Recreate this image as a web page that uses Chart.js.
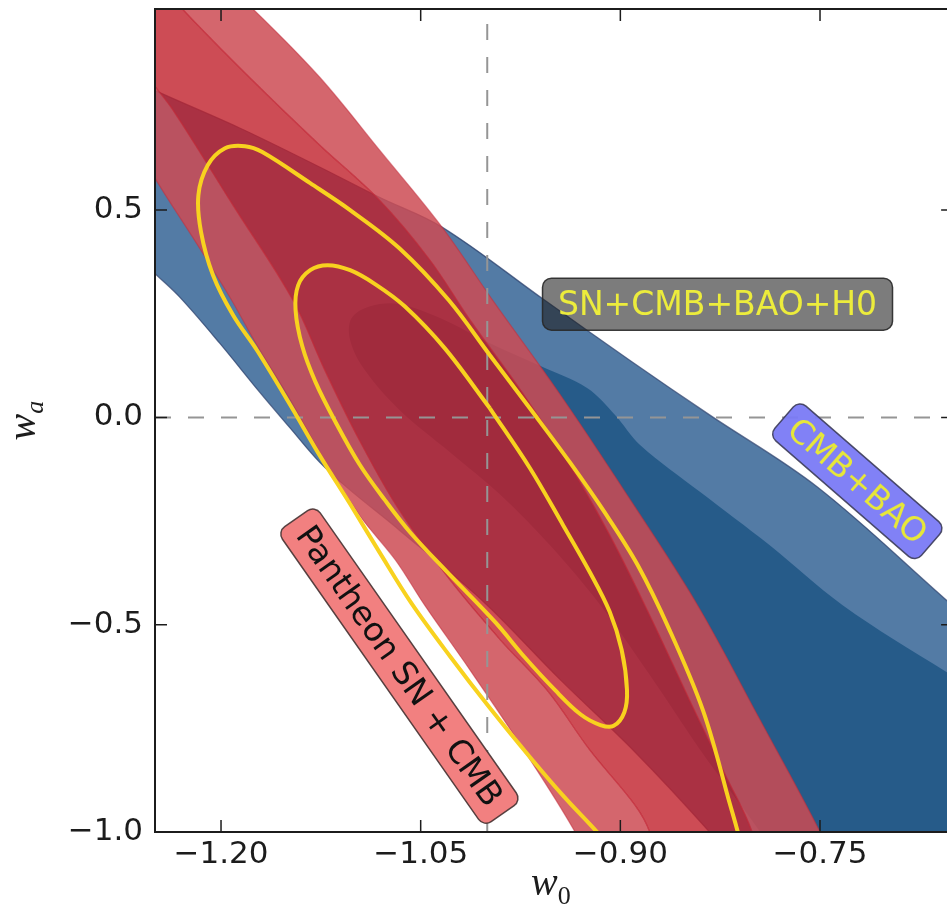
<!DOCTYPE html>
<html>
<head>
<meta charset="utf-8">
<title>w0 - wa constraints</title>
<script src="https://cdn.jsdelivr.net/npm/chart.js@4.4.1/dist/chart.umd.min.js"></script>
<style>
  html, body { margin: 0; padding: 0; background: #fff; }
  canvas { display: block; }
</style>
</head>
<body>
<canvas id="contour-chart" width="947" height="912"></canvas>
<script>
// ========================= 数据 =========================
// 坐标轴刻度
const w0Ticks = [-1.20, -1.05, -0.90, -0.75];
const waTicks = [-1.0, -0.5, 0.0, 0.5];
// 坐标范围
const w0Min = -1.2496, w0Max = -0.6546;
const waMin = -1.0, waMax = 0.985;
// ΛCDM 参考虚线
const lcdmW0 = -1.0;
const lcdmWa = 0.0;

// CMB+BAO 轮廓 (95% / 68%), 每个点为 [w0, wa]
const cmbBaoOuter = [
  [-1.298, 0.862], [-1.250, 0.789], [-1.186, 0.698], [-1.126, 0.604], [-1.081, 0.531],
  [-1.034, 0.459], [-0.957, 0.283], [-0.893, 0.138], [-0.833, 0.006], [-0.752, -0.168],
  [-0.655, -0.441], [-0.600, -0.597], [-0.570, -0.875], [-0.630, -1.309], [-0.780, -1.309],
  [-0.810, -1.092], [-0.833, -1.000], [-0.889, -0.807], [-0.945, -0.633], [-1.004, -0.441],
  [-1.066, -0.272], [-1.105, -0.170], [-1.126, -0.108], [-1.148, -0.026], [-1.171, 0.061],
  [-1.201, 0.179], [-1.231, 0.290], [-1.250, 0.348], [-1.283, 0.452], [-1.321, 0.596],
  [-1.328, 0.765]
];
const cmbBaoInner = [
  [-0.600, -0.718], [-0.570, -0.923], [-0.615, -1.309], [-0.750, -1.309], [-0.773, -1.116],
  [-0.795, -1.000], [-0.840, -0.802], [-0.878, -0.621], [-0.915, -0.453], [-0.953, -0.308],
  [-0.990, -0.187], [-1.028, -0.084], [-1.066, 0.018], [-1.092, 0.114], [-1.103, 0.186],
  [-1.102, 0.239], [-1.088, 0.268], [-1.066, 0.273], [-1.035, 0.239], [-0.998, 0.179],
  [-0.960, 0.124], [-0.925, 0.071], [-0.904, 0.006], [-0.885, -0.067], [-0.840, -0.180],
  [-0.788, -0.308], [-0.733, -0.453], [-0.655, -0.614]
];

// Pantheon SN + CMB 轮廓 (95% / 68%)
const snCmbOuter = [
  [-1.216, 1.103], [-1.176, 0.985], [-1.126, 0.821], [-1.081, 0.645], [-1.034, 0.459],
  [-0.996, 0.283], [-0.945, 0.054], [-0.889, -0.216], [-0.842, -0.453], [-0.795, -0.730],
  [-0.750, -1.000], [-0.727, -1.164], [-0.795, -1.309], [-0.900, -1.212], [-0.934, -1.000],
  [-0.975, -0.790], [-1.013, -0.609], [-1.047, -0.453], [-1.069, -0.344], [-1.096, -0.236],
  [-1.126, -0.084], [-1.148, 0.042], [-1.173, 0.174], [-1.193, 0.288], [-1.220, 0.428],
  [-1.250, 0.579], [-1.276, 0.729], [-1.283, 0.910], [-1.261, 1.079]
];
const snCmbInner = [
  [-1.261, 1.103], [-1.229, 0.985], [-1.178, 0.818], [-1.126, 0.657], [-1.081, 0.524],
  [-1.043, 0.379], [-1.013, 0.235], [-0.975, 0.066], [-0.938, -0.115], [-0.908, -0.284],
  [-0.878, -0.477], [-0.848, -0.682], [-0.821, -0.863], [-0.801, -1.000], [-0.788, -1.164],
  [-0.840, -1.309], [-0.870, -1.116], [-0.878, -1.000], [-0.889, -0.935], [-0.923, -0.802],
  [-0.954, -0.662], [-0.990, -0.537], [-1.028, -0.392], [-1.066, -0.224], [-1.096, -0.055],
  [-1.122, 0.114], [-1.146, 0.283], [-1.191, 0.512], [-1.236, 0.741], [-1.253, 0.813],
  [-1.283, 0.958], [-1.291, 1.055]
];

// SN+CMB+BAO+H0 轮廓线 (95% / 68%)
const allOuter = [
  [-0.893, -1.092], [-0.917, -1.002], [-0.942, -0.916], [-0.968, -0.819], [-0.998, -0.701],
  [-1.028, -0.576], [-1.057, -0.448], [-1.081, -0.325], [-1.103, -0.209], [-1.126, -0.091],
  [-1.148, 0.030], [-1.173, 0.162], [-1.191, 0.247], [-1.206, 0.343], [-1.215, 0.447],
  [-1.217, 0.536], [-1.210, 0.608], [-1.197, 0.649], [-1.182, 0.654], [-1.169, 0.640],
  [-1.133, 0.565], [-1.103, 0.500], [-1.066, 0.408], [-1.029, 0.283], [-0.998, 0.150],
  [-0.968, 0.022], [-0.938, -0.108], [-0.912, -0.228], [-0.887, -0.356], [-0.863, -0.513],
  [-0.838, -0.706], [-0.820, -0.906], [-0.806, -1.092], [-0.810, -1.212], [-0.829, -1.273],
  [-0.863, -1.200]
];
const allInner = [
  [-0.998, 0.022], [-0.968, -0.122], [-0.943, -0.260], [-0.923, -0.373], [-0.908, -0.469],
  [-0.899, -0.561], [-0.895, -0.658], [-0.897, -0.711], [-0.905, -0.744], [-0.915, -0.742],
  [-0.930, -0.716], [-0.949, -0.658], [-0.972, -0.578], [-0.994, -0.494], [-1.028, -0.380],
  [-1.058, -0.277], [-1.077, -0.199], [-1.096, -0.113], [-1.114, -0.011], [-1.129, 0.085],
  [-1.139, 0.172], [-1.144, 0.259], [-1.142, 0.319], [-1.133, 0.355], [-1.120, 0.367],
  [-1.103, 0.355], [-1.084, 0.321], [-1.062, 0.268], [-1.032, 0.167]
];

// 图中的文字标注 (锚点为数据坐标)
const textBoxes = [
  { text: 'SN+CMB+BAO+H0', w0: -0.827, wa: 0.273, angle: 0, w: 350, h: 52,
    fill: 'rgba(30,30,30,0.58)', edge: 'rgba(40,40,40,0.9)', color: '#ecec3c' },
  { text: 'CMB+BAO', w0: -0.722, wa: -0.154, angle: 41, w: 194, h: 46,
    fill: 'rgba(122,122,245,0.95)', edge: 'rgba(60,60,90,0.9)', color: '#e6e63a' },
  { text: 'Pantheon SN + CMB', w0: -1.066, wa: -0.600, angle: 55, w: 360, h: 46,
    fill: '#f28080', edge: 'rgba(70,50,50,0.9)', color: '#111111' }
];

// ========================= 辅助函数 =========================
const closed = pts => pts.concat([pts[0]]);
const toXY = pts => pts.map(([x, y]) => ({ x, y }));
const minusSign = s => s.replace('-', '\u2212');

/**
 * 生成一条折线数据集，默认不填充、无描边。
 */
function lineSet(points, opts) {
  return Object.assign({
    data: toXY(points),
    showLine: true,
    pointRadius: 0,
    pointHoverRadius: 0,
    clip: 0,
    tension: 0.35,
    borderWidth: 0,
    fill: false
  }, opts);
}

// 95% 外环 = 外轮廓 + 反向的内轮廓 (nonzero 规则下内部成为空洞)
const snCmbRing = closed(snCmbOuter).concat(closed(snCmbInner).reverse());

/**
 * 绘制带圆角的旋转文本框。
 */
function drawTextBox(ctx, cx, cy, box) {
  const w = box.w, h = box.h, r = 9;
  ctx.save();
  ctx.translate(cx, cy);
  ctx.rotate(box.angle * Math.PI / 180);
  ctx.beginPath();
  ctx.moveTo(-w / 2 + r, -h / 2);
  ctx.arcTo(w / 2, -h / 2, w / 2, h / 2, r);
  ctx.arcTo(w / 2, h / 2, -w / 2, h / 2, r);
  ctx.arcTo(-w / 2, h / 2, -w / 2, -h / 2, r);
  ctx.arcTo(-w / 2, -h / 2, w / 2, -h / 2, r);
  ctx.closePath();
  ctx.fillStyle = box.fill;
  ctx.fill();
  ctx.lineWidth = 1.5;
  ctx.strokeStyle = box.edge;
  ctx.stroke();
  ctx.fillStyle = box.color;
  ctx.font = '33px "DejaVu Sans"';
  ctx.textAlign = 'center';
  ctx.textBaseline = 'middle';
  ctx.fillText(box.text, 0, 2);
  ctx.restore();
}

// 坐标框、朝内刻度、标注和轴标题 (matplotlib 风格)
const framePlugin = {
  id: 'frame',
  afterDatasetsDraw(chart) {
    const { ctx, chartArea: a, scales: { x, y } } = chart;
    ctx.save();

    textBoxes.forEach(b => drawTextBox(ctx, x.getPixelForValue(b.w0), y.getPixelForValue(b.wa), b));

    ctx.strokeStyle = '#1c1c1c';
    ctx.lineWidth = 2;
    ctx.beginPath();
    ctx.moveTo(a.right + 10, a.top);
    ctx.lineTo(a.left, a.top);
    ctx.lineTo(a.left, a.bottom);
    ctx.lineTo(a.right + 10, a.bottom);
    ctx.stroke();

    const tick = 12;
    const rightSpine = x.getPixelForValue(-0.65);
    ctx.lineWidth = 1.5;
    ctx.beginPath();
    w0Ticks.forEach(v => {
      const px = x.getPixelForValue(v);
      ctx.moveTo(px, a.top); ctx.lineTo(px, a.top + tick);
      ctx.moveTo(px, a.bottom); ctx.lineTo(px, a.bottom - tick);
    });
    waTicks.forEach(v => {
      const py = y.getPixelForValue(v);
      ctx.moveTo(a.left, py); ctx.lineTo(a.left + tick, py);
      ctx.moveTo(rightSpine, py); ctx.lineTo(rightSpine - tick, py);
    });
    ctx.stroke();

    // 轴标题 w_0 / w_a
    ctx.fillStyle = '#1c1c1c';
    ctx.textBaseline = 'alphabetic';
    ctx.textAlign = 'left';
    const cx = (a.left + a.right) / 2;
    ctx.font = 'italic 40px "Liberation Serif"';
    const ww = ctx.measureText('w').width;
    ctx.fillText('w', cx - 20, a.bottom + 63);
    ctx.font = '26px "Liberation Serif"';
    ctx.fillText('0', cx - 20 + ww, a.bottom + 72);

    ctx.save();
    ctx.translate(a.left - 120, (a.top + a.bottom) / 2);
    ctx.rotate(-Math.PI / 2);
    ctx.font = 'italic 40px "Liberation Serif"';
    ctx.fillText('w', -20, 0);
    ctx.font = 'italic 26px "Liberation Serif"';
    ctx.fillText('a', -20 + ww, 8);
    ctx.restore();

    ctx.restore();
  }
};

// ========================= 图表 =========================
const tickFont = { family: '"DejaVu Sans"', size: 31 };

new Chart(document.getElementById('contour-chart').getContext('2d'), {
  type: 'scatter',
  data: {
    datasets: [
      lineSet(closed(cmbBaoOuter), { order: 9, fill: 'shape', backgroundColor: '#537ba5',
        borderColor: 'rgba(50,70,112,0.75)', borderWidth: 1.3 }),
      lineSet(closed(cmbBaoInner), { order: 8, fill: 'shape', backgroundColor: '#265b89' }),
      lineSet(snCmbRing, { order: 7, fill: 'shape', backgroundColor: 'rgba(204,75,84,0.85)',
        borderColor: 'rgba(195,45,60,0.55)', borderWidth: 1.2 }),
      lineSet(closed(snCmbInner), { order: 6, fill: 'shape', backgroundColor: 'rgba(193,31,42,0.8)',
        borderColor: 'rgba(195,45,60,0.55)', borderWidth: 1.2 }),
      lineSet([[lcdmW0, waMin], [lcdmW0, waMax]], { order: 5, tension: 0,
        borderColor: '#959595', borderWidth: 2, borderDash: [16, 17] }),
      lineSet([[w0Min, lcdmWa], [w0Max, lcdmWa]], { order: 4, tension: 0,
        borderColor: '#959595', borderWidth: 2, borderDash: [16, 17] }),
      lineSet(closed(allOuter), { order: 3, borderColor: '#f8d21f', borderWidth: 4 }),
      lineSet(closed(allInner), { order: 2, borderColor: '#f8d21f', borderWidth: 4 })
    ]
  },
  options: {
    responsive: false,
    animation: false,
    events: [],
    layout: { padding: { top: 9, right: 0, bottom: 0, left: 0 } },
    plugins: { legend: { display: false }, tooltip: { enabled: false } },
    elements: { line: { capBezierPoints: false, borderJoinStyle: 'round' } },
    scales: {
      x: {
        type: 'linear', min: w0Min, max: w0Max,
        grid: { display: false, drawTicks: false },
        border: { display: false },
        afterBuildTicks: s => { s.ticks = w0Ticks.map(v => ({ value: v })); },
        afterFit: s => { s.height = 80; s.paddingLeft = 0; s.paddingRight = 0; },
        ticks: { autoSkip: false, maxRotation: 0, padding: 4, color: '#1c1c1c', font: tickFont,
          callback: v => minusSign(v.toFixed(2)) }
      },
      y: {
        type: 'linear', min: waMin, max: waMax,
        grid: { display: false, drawTicks: false },
        border: { display: false },
        afterBuildTicks: s => { s.ticks = waTicks.map(v => ({ value: v })); },
        afterFit: s => { s.width = 155; s.paddingTop = 0; s.paddingBottom = 0; },
        ticks: { autoSkip: false, padding: 12, color: '#1c1c1c', font: tickFont,
          callback: v => minusSign(v.toFixed(1)) }
      }
    }
  },
  plugins: [framePlugin]
});
</script>
</body>
</html>
